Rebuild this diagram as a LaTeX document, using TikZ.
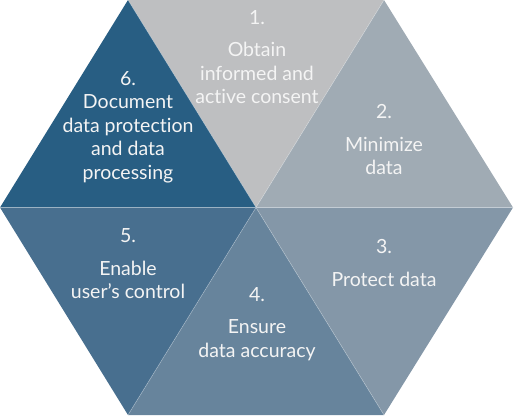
\documentclass[tikz,border=0pt]{standalone}
\usepackage{fontspec}
\setmainfont[Ligatures=NoCommon]{Lato}
\usepackage{tikz}
\definecolor{segone}{HTML}{BEBFC1}
\definecolor{segtwo}{HTML}{A0ABB4}
\definecolor{segthree}{HTML}{8497A8}
\definecolor{segfour}{HTML}{67849C}
\definecolor{segfive}{HTML}{486F8F}
\definecolor{segsix}{HTML}{285E83}
\definecolor{labeltext}{HTML}{F4F4F4}
\begin{document}
\begin{tikzpicture}[
  x=1pt, y=-1pt,
  seglabel/.style={text=labeltext, align=center, inner sep=0pt, font=\fontsize{19.5}{23.5}\selectfont},
  seam/.style={draw=white, draw opacity=0.35, line width=0.6pt}
]
  \useasboundingbox (0,0) rectangle (515,417);
  % hexagon corners and centre
  \coordinate (tl) at (128,0);
  \coordinate (tr) at (384,0);
  \coordinate (rt) at (513,207.5);
  \coordinate (br) at (384,415);
  \coordinate (bl) at (128,415);
  \coordinate (lt) at (0,207.5);
  \coordinate (mid) at (256,207.5);
  % the six segments
  \fill[segone] (tl) -- (tr) -- (mid) -- cycle;
  \fill[segtwo] (tr) -- (rt) -- (mid) -- cycle;
  \fill[segthree] (rt) -- (br) -- (mid) -- cycle;
  \fill[segfour] (br) -- (bl) -- (mid) -- cycle;
  \fill[segfive] (bl) -- (lt) -- (mid) -- cycle;
  \fill[segsix] (lt) -- (tl) -- (mid) -- cycle;
  \draw[seam] (tl) -- (br) (tr) -- (bl) (lt) -- (rt);
  % labels
  \node[seglabel] (consent) at (257,57) {1.\\[9pt]Obtain\\informed and\\active consent};
  \node[seglabel] (minimize) at (384,140) {2.\\[9pt]Minimize\\data};
  \node[seglabel] (protect) at (384,263) {3.\\[9pt]Protect data};
  \node[seglabel] (accuracy) at (257,324) {4.\\[9pt]Ensure\\data accuracy};
  \node[seglabel] (control) at (128,264) {5.\\[9pt]Enable\\user’s control};
  \node[seglabel] (document) at (128,127) {6.\\Document\\data protection\\and data\\processing};
\end{tikzpicture}
\end{document}
